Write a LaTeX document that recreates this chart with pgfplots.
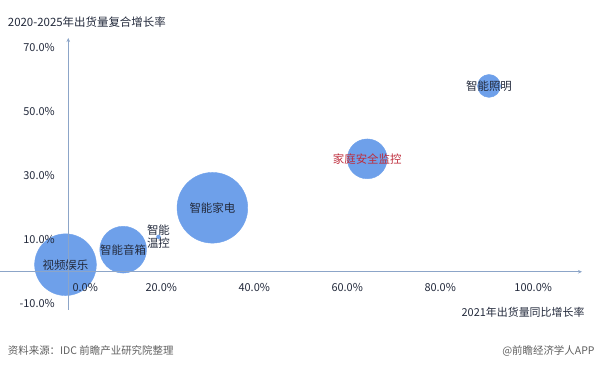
\documentclass[border=0pt]{standalone}
\usepackage{pgfplots}
\pgfplotsset{compat=1.18}
\usepackage{pgfplotstable}
\usepackage{fontspec}
\setmainfont{Noto Sans CJK SC}
\usetikzlibrary{arrows.meta}

\definecolor{bubble}{RGB}{110,160,234}
\definecolor{axisline}{RGB}{140,165,200}
\definecolor{lbldark}{RGB}{35,42,60}
\definecolor{lblred}{RGB}{190,45,60}
\definecolor{srcgray}{RGB}{95,95,95}

% x: 2021 YoY shipment growth (%), y: 2020-2025 CAGR (%), r: bubble radius (bp)
\pgfplotstableread[col sep=comma]{
x,y,r,label
-0.6,2.2,31,视频娱乐
11.8,6.9,23.5,智能音箱
19.4,10.9,2,{智能\\温控}
31.0,20.0,35.5,智能家电
64.3,35.3,20,{\color{lblred}家庭安全监控}
90.5,58.1,11.5,智能照明
}\bubbles

\begin{document}
\begin{tikzpicture}
\begin{axis}[
  set layers=axis on top,
  at={(0bp,56bp)}, anchor=south west,
  scale only axis, width=582bp, height=272bp,
  xmin=-14.6, xmax=110.5, ymin=-11.9, ymax=73.1,
  axis lines=middle,
  axis line style={draw=axisline, line width=0.8pt, -{Stealth[length=4pt,width=3.5pt]}},
  major tick length=0pt,
  xtick={20,40,60,80,100},
  xticklabels={20.0\%,40.0\%,60.0\%,80.0\%,100.0\%},
  extra x ticks={0},
  extra x tick labels={0.0\%},
  extra x tick style={xticklabel style={xshift=17bp}},
  ytick={-10,10,30,50,70},
  yticklabels={-10.0\%,10.0\%,30.0\%,50.0\%,70.0\%},
  tick label style={font=\fontsize{11}{13}\selectfont, text=lbldark},
  xticklabel style={yshift=-8bp},
  yticklabel style={xshift=-10bp},
  clip=false,
]
% bubbles, radius taken from column r
\addplot[
  scatter, only marks, mark=*,
  point meta=explicit,
  scatter/use mapped color={draw=bubble, fill=bubble},
  visualization depends on={\thisrow{r} \as \rad},
  scatter/@pre marker code/.append style={/tikz/mark size=\rad},
] table[x=x, y=y, meta=r] {\bubbles};
% category names centred on the bubbles
\addplot[
  only marks, mark=none,
  point meta=explicit symbolic,
  nodes near coords,
  every node near coord/.append style={anchor=center, align=center,
    text=lbldark, font=\fontsize{11.5}{13}\selectfont, inner sep=0pt},
] table[x=x, y=y, meta=label] {\bubbles};
\end{axis}
\node[anchor=west, font=\fontsize{11.5}{13}\selectfont, text=lbldark] at (4bp,344bp) {2020-2025年出货量复合增长率};
\node[anchor=east, font=\fontsize{11}{13}\selectfont, text=lbldark] at (588bp,53bp) {2021年出货量同比增长率};
\node[anchor=west, font=\fontsize{10.5}{12}\selectfont, text=srcgray] at (4bp,15bp) {资料来源：IDC 前瞻产业研究院整理};
\node[anchor=east, font=\fontsize{10.5}{12}\selectfont, text=srcgray] at (598bp,15bp) {@前瞻经济学人APP};
\path (0,0) rectangle (600bp,366bp);
\end{tikzpicture}
\end{document}
